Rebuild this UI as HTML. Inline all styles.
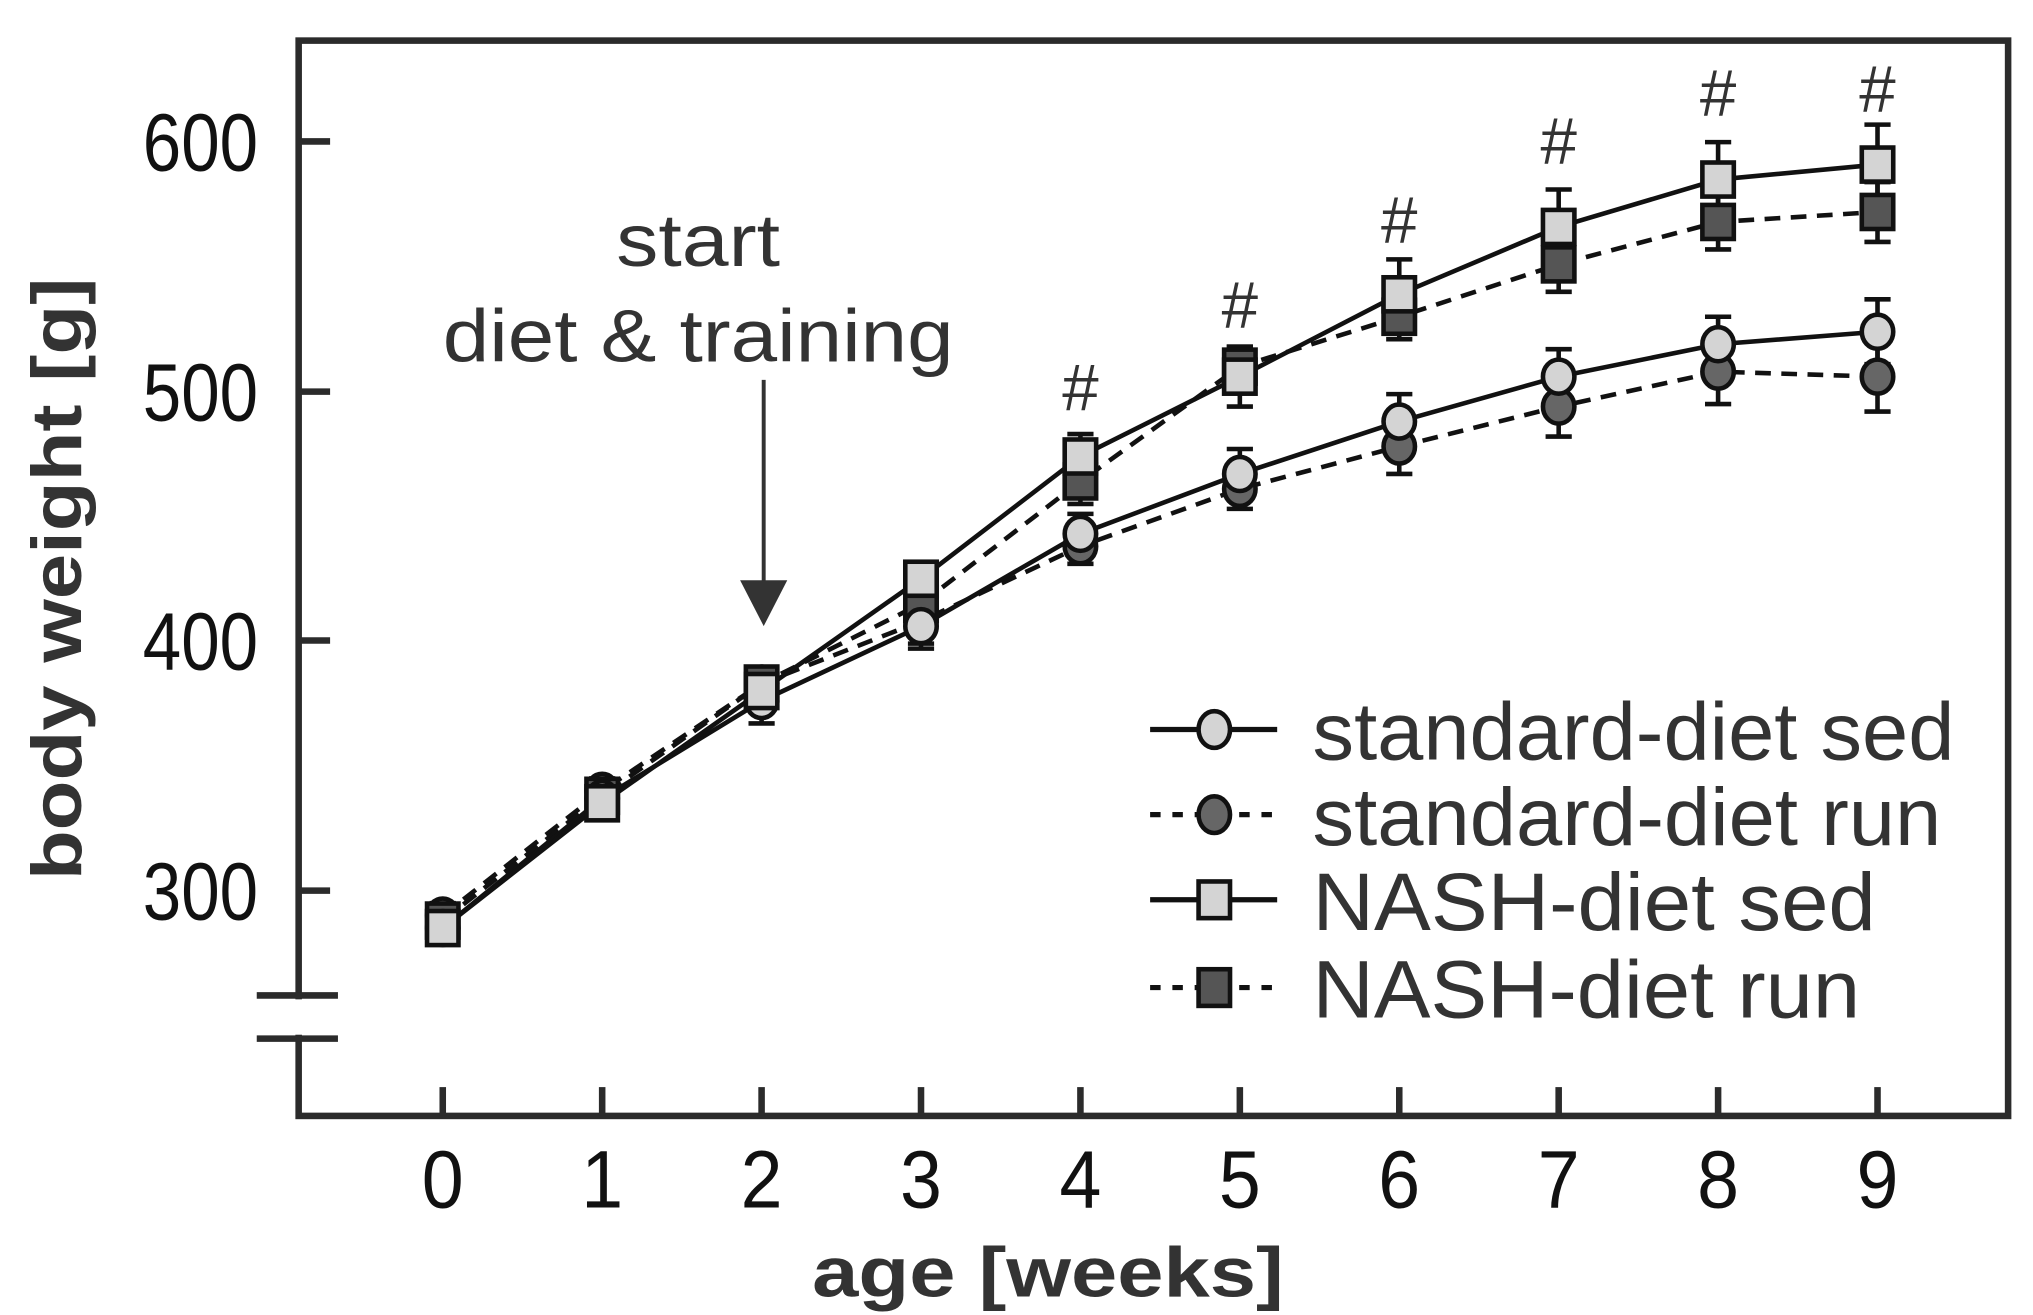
<!DOCTYPE html>
<html><head><meta charset="utf-8"><style>html,body{margin:0;padding:0;background:#fff}svg{display:block}</style></head>
<body>
<svg width="2033" height="1315" viewBox="0 0 1552 1004" preserveAspectRatio="none" xmlns="http://www.w3.org/2000/svg" font-family="Liberation Sans, sans-serif">
<rect width="1552" height="1004" fill="#fff"/>
<rect x="228" y="31" width="1305" height="821" fill="none" stroke="#2b2b2b" stroke-width="5"/>
<g stroke="#2b2b2b" stroke-width="5">
<line x1="228" y1="108" x2="252" y2="108"/><line x1="228" y1="299" x2="252" y2="299"/>
<line x1="228" y1="489" x2="252" y2="489"/><line x1="228" y1="680" x2="252" y2="680"/>
<line x1="196" y1="760" x2="258" y2="760"/><line x1="196" y1="793" x2="258" y2="793"/>
</g>
<rect x="223" y="763" width="10" height="27" fill="#fff"/>
<g stroke="#2b2b2b" stroke-width="5" id="xt"></g>
<g font-size="62" fill="#111" text-anchor="end">
<text x="197" y="130" textLength="88" lengthAdjust="spacingAndGlyphs">600</text>
<text x="197" y="321" textLength="88" lengthAdjust="spacingAndGlyphs">500</text>
<text x="197" y="511" textLength="88" lengthAdjust="spacingAndGlyphs">400</text>
<text x="197" y="702" textLength="88" lengthAdjust="spacingAndGlyphs">300</text>
</g>
<g font-size="62" fill="#111" text-anchor="middle" id="xl"></g>
<text transform="translate(62,442) rotate(-90)" font-size="54" font-weight="bold" fill="#333" text-anchor="middle" textLength="460" lengthAdjust="spacingAndGlyphs">body weight [g]</text>
<text x="800" y="990" font-size="54" font-weight="bold" fill="#333" text-anchor="middle" textLength="360" lengthAdjust="spacingAndGlyphs">age [weeks]</text>
<g font-size="57" fill="#333" text-anchor="middle">
<text x="533" y="203" textLength="125" lengthAdjust="spacingAndGlyphs">start</text>
<text x="533" y="276" textLength="390" lengthAdjust="spacingAndGlyphs">diet &amp; training</text>
</g>
<line x1="583" y1="290" x2="583" y2="445" stroke="#333" stroke-width="3"/>
<polygon points="565,443 601,443 583,478" fill="#333"/>
<g font-size="50" fill="#333" text-anchor="middle" id="hs"></g>
<g id="plot"></g>
<g id="leg"></g>
<g font-size="62" fill="#333">
<text x="1002" y="580" textLength="490" lengthAdjust="spacingAndGlyphs">standard-diet sed</text>
<text x="1002" y="645" textLength="480" lengthAdjust="spacingAndGlyphs">standard-diet run</text>
<text x="1002" y="710" textLength="430" lengthAdjust="spacingAndGlyphs">NASH-diet sed</text>
<text x="1002" y="777" textLength="418" lengthAdjust="spacingAndGlyphs">NASH-diet run</text>
</g>
<script>
const NS="http://www.w3.org/2000/svg";
function el(p,t,a,txt){const e=document.createElementNS(NS,t);for(const k in a)e.setAttribute(k,a[k]);if(txt!==undefined)e.textContent=txt;p.appendChild(e);return e;}
const X=i=>338+i*121.7, Y=v=>680-(v-300)*1.905;
const xt=document.getElementById('xt'),xl=document.getElementById('xl');
for(let i=0;i<10;i++){el(xt,'line',{x1:X(i),y1:830,x2:X(i),y2:852});el(xl,'text',{x:X(i),y:922,textLength:32,lengthAdjust:'spacingAndGlyphs'},String(i));}
const hs=document.getElementById('hs');
[[4,313],[5,250],[6,185],[7,125],[8,88],[9,85]].forEach(([i,y])=>el(hs,'text',{x:X(i),y:y},'#'));
const S=[
 {d:[285,337,376,406,443,467,488,506,519,524],e:[6,6,9,9,8,10,11,11,11,13],m:'c',f:'#d4d4d4',dash:null},
 {d:[290,340,383,408,438,461,478,494,508,506],e:[5,5,6,9,7,8,11,12,13,14],m:'c',f:'#666',dash:'12 8'},
 {d:[285,335,380,425,474,506,539,566,585,591],e:[5,5,6,6,9,12,14,15,15,16],m:'s',f:'#d4d4d4',dash:null},
 {d:[288,338,383,415,464,510,530,551,568,572],e:[5,5,6,7,9,8,9,11,11,12],m:'s',f:'#555',dash:'12 8'}];
const P=document.getElementById('plot');
const order=[1,3,0,2];
order.forEach(k=>{const s=S[k];
 el(P,'polyline',{points:s.d.map((v,i)=>X(i)+','+Y(v)).join(' '),fill:'none',stroke:'#111','stroke-width':3.5,'stroke-dasharray':s.dash||'none'});});
order.forEach(k=>{const s=S[k];
 s.d.forEach((v,i)=>{const x=X(i),y=Y(v),h=s.e[i]*1.905;
  el(P,'line',{x1:x,y1:y-h,x2:x,y2:y+h,stroke:'#111','stroke-width':3.5});
  el(P,'line',{x1:x-10,y1:y-h,x2:x+10,y2:y-h,stroke:'#111','stroke-width':3.5});
  el(P,'line',{x1:x-10,y1:y+h,x2:x+10,y2:y+h,stroke:'#111','stroke-width':3.5});});});
order.forEach(k=>{const s=S[k];
 s.d.forEach((v,i)=>{const x=X(i),y=Y(v);
  if(s.m=='c')el(P,'ellipse',{cx:x,cy:y,rx:12,ry:13,fill:s.f,stroke:'#111','stroke-width':3.5});
  else el(P,'rect',{x:x-12,y:y-13,width:24,height:26,fill:s.f,stroke:'#111','stroke-width':3.5});});});
const L=document.getElementById('leg');
S.forEach((s,j)=>{const y=[557,622,687,754][j];
 el(L,'line',{x1:878,y1:y,x2:975,y2:y,stroke:'#111','stroke-width':4,'stroke-dasharray':s.dash?'8 9':'none'});
 if(s.m=='c')el(L,'ellipse',{cx:927,cy:y,rx:12,ry:14,fill:s.f,stroke:'#111','stroke-width':3.5});
 else el(L,'rect',{x:915,y:y-14,width:24,height:28,fill:s.f,stroke:'#111','stroke-width':3.5});});
</script>
</svg>
</body></html>
